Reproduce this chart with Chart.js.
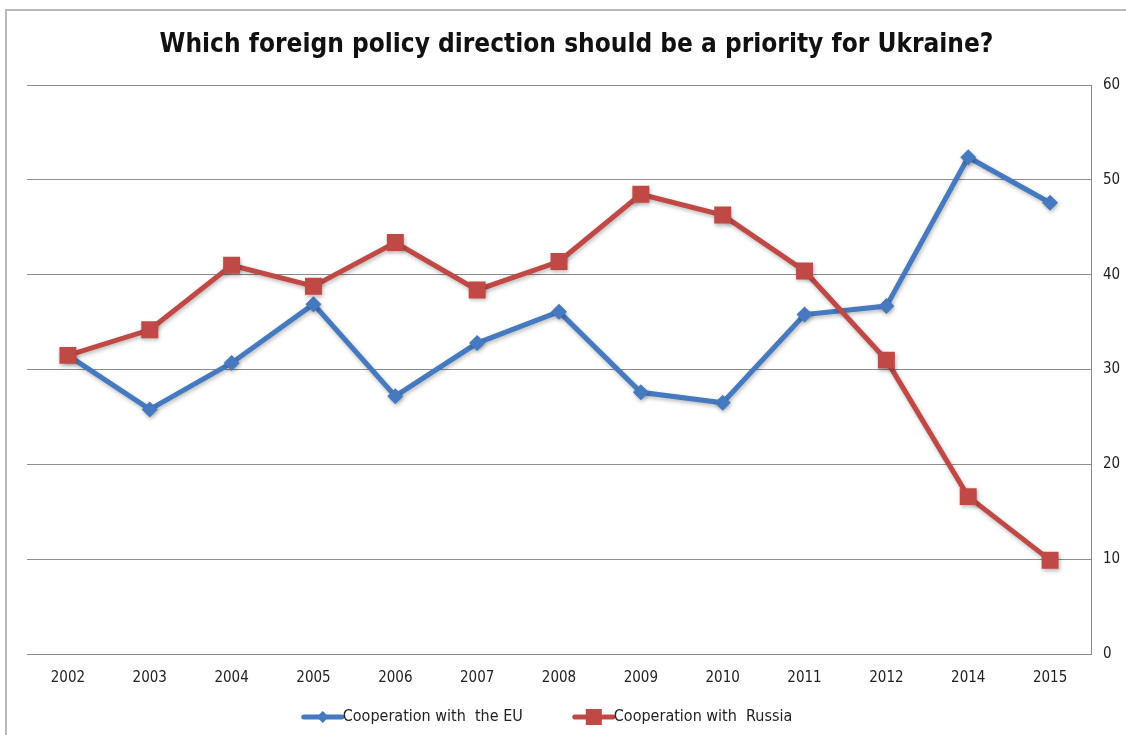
<!DOCTYPE html>
<html>
<head>
<meta charset="utf-8">
<script src="https://cdn.jsdelivr.net/npm/chart.js@4"></script>
<style>
  html, body { margin: 0; padding: 0; background: #fff; overflow: hidden; }
  #wrap { position: absolute; left: 0; top: 0; width: 1126px; height: 735px; }
  #frame { position: absolute; left: 5px; top: 9px; width: 1200px; height: 800px;
           border-left: 2px solid #b9b9b9; border-top: 2px solid #b9b9b9; }
</style>
</head>
<body>
<div id="wrap">
  <div id="frame"></div>
  <canvas id="chart" width="1126" height="735"></canvas>
</div>
<script>
const years = ['2002', '2003', '2004', '2005', '2006', '2007', '2008', '2009', '2010', '2011', '2012', '2014', '2015'];
const euValues = [31.5, 25.8, 30.7, 36.9, 27.2, 32.8, 36.1, 27.6, 26.5, 35.8, 36.7, 52.4, 47.6];
const russiaValues = [31.5, 34.2, 41.0, 38.8, 43.4, 38.4, 41.4, 48.5, 46.3, 40.4, 31.0, 16.6, 9.9];
const yTicks = [0, 10, 20, 30, 40, 50, 60];

const BLUE = '#4579c0';
const RED = '#c04845';
const FONT = "'Liberation Sans Narrow', 'DejaVu Sans Condensed', 'Liberation Sans', sans-serif";

// soft drop shadow under the lines, like the original office chart
const shadowPlugin = {
  id: 'shadow',
  beforeDatasetsDraw(chart) {
    const c = chart.ctx;
    c.save();
    c.shadowColor = 'rgba(0,0,0,0.28)';
    c.shadowBlur = 4;
    c.shadowOffsetX = 1;
    c.shadowOffsetY = 2;
  },
  afterDatasetsDraw(chart) {
    chart.ctx.restore();
  }
};

// legend: short line with marker, text right after it, centred under the plot
const lineLegend = {
  id: 'lineLegend',
  afterDraw(chart) {
    const c = chart.ctx;
    const y = 717;
    const swatch = 40;
    const gap = 50;
    c.save();
    c.font = '16px ' + FONT;
    c.textBaseline = 'middle';
    const items = chart.data.datasets.map((ds, i) => ({
      ds, shape: i === 0 ? 'diamond' : 'square', w: c.measureText(ds.label).width
    }));
    const total = items.reduce((s, it) => s + swatch + 1 + it.w, 0) + gap * (items.length - 1);
    let x = 547 - total / 2;
    items.forEach((it) => {
      const col = it.ds.borderColor;
      c.strokeStyle = col;
      c.fillStyle = col;
      c.lineWidth = 5;
      c.lineCap = 'round';
      c.beginPath();
      c.moveTo(x + 2, y);
      c.lineTo(x + swatch, y);
      c.stroke();
      const mx = x + 21;
      if (it.shape === 'diamond') {
        c.beginPath();
        c.moveTo(mx, y - 6); c.lineTo(mx + 6, y); c.lineTo(mx, y + 6); c.lineTo(mx - 6, y);
        c.closePath();
        c.fill();
      } else {
        c.fillRect(mx - 8, y - 8, 16, 16);
      }
      c.fillStyle = '#222';
      c.textAlign = 'left';
      c.fillText(it.ds.label, x + swatch + 1, y);
      x += swatch + 1 + it.w + gap;
    });
    c.restore();
  }
};

const ctx = document.getElementById('chart').getContext('2d');
new Chart(ctx, {
  type: 'line',
  data: {
    labels: years,
    datasets: [
      {
        label: 'Cooperation with  the EU',
        data: euValues,
        borderColor: BLUE,
        backgroundColor: BLUE,
        borderWidth: 5,
        pointStyle: 'rectRot',
        pointRadius: 8,
        pointHoverRadius: 8,
        pointBorderWidth: 0,
        order: 2,
        tension: 0
      },
      {
        label: 'Cooperation with  Russia',
        data: russiaValues,
        borderColor: RED,
        backgroundColor: RED,
        borderWidth: 5,
        pointStyle: 'rect',
        pointRadius: 12,
        pointHoverRadius: 12,
        pointBorderWidth: 0,
        order: 1,
        tension: 0
      }
    ]
  },
  plugins: [shadowPlugin, lineLegend],
  options: {
    responsive: false,
    animation: false,
    layout: { padding: { left: 27, right: 0, top: 0, bottom: 39 } },
    plugins: {
      title: {
        display: true,
        text: 'Which foreign policy direction should be a priority for Ukraine?',
        color: '#111',
        font: { family: "'Liberation Sans Narrow', 'DejaVu Sans Condensed', sans-serif", size: 26, weight: 'bold' },
        padding: { top: 30, bottom: 24 }
      },
      legend: { display: false },
      tooltip: { enabled: false }
    },
    scales: {
      x: {
        offset: true,
        grid: { display: false, drawTicks: false },
        border: { display: true, color: '#8c8c8c', width: 1 },
        ticks: { color: '#222', font: { family: FONT, size: 15 }, padding: 15, maxRotation: 0 },
        afterFit: (scale) => { scale.height = 42; }
      },
      y: {
        position: 'right',
        min: 0,
        max: 60,
        afterBuildTicks: (scale) => { scale.ticks = yTicks.map(v => ({ value: v })); },
        grid: { color: '#8c8c8c', lineWidth: 1, drawTicks: false },
        border: { display: true, color: '#8c8c8c', width: 1 },
        ticks: { color: '#222', font: { family: FONT, size: 15 }, padding: 12 },
        afterFit: (scale) => { scale.width = 35; }
      }
    }
  }
});
</script>
</body>
</html>
